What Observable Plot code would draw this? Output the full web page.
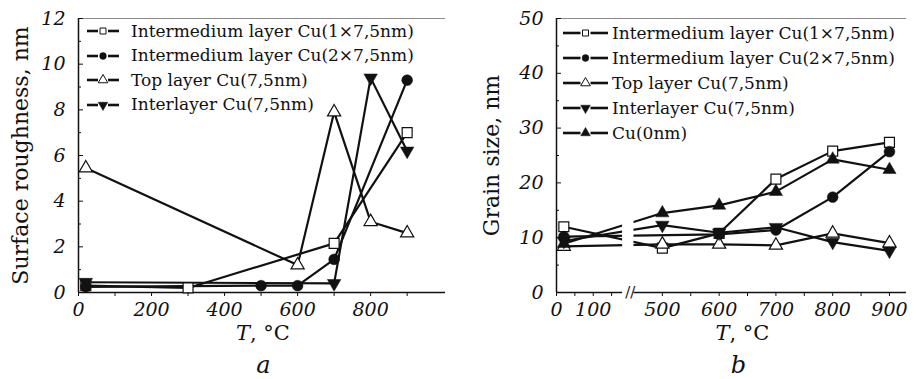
<!DOCTYPE html>
<html><head><meta charset="utf-8">
<script src="https://cdn.jsdelivr.net/npm/d3@7"></script>
<script src="https://cdn.jsdelivr.net/npm/@observablehq/plot@0.6"></script>
<style>
body{margin:0;background:#fff;}
#fig{position:relative;width:916px;height:379px;background:#fff;font-family:'DejaVu Serif',serif;color:#111;overflow:hidden}
.panel{position:absolute;top:0}
.row{position:absolute;display:flex;align-items:center;white-space:nowrap;font-size:17px;line-height:1;height:18px}
</style></head><body>
<div id="fig"><div class="panel" id="pa" style="left:0"></div><div class="panel" id="pb" style="left:458px"></div></div>
<script>
// ---------- series names ----------
const seriesNames = ["Intermedium layer Cu(1×7,5nm)", "Intermedium layer Cu(2×7,5nm)", "Top layer Cu(7,5nm)", "Interlayer Cu(7,5nm)", "Cu(0nm)"];

// ---------- panel a: surface roughness, nm ----------
const roughSquareT = [20, 300, 700, 900];
const roughSquare  = [0.3, 0.2, 2.15, 7.0];
const roughCircleT = [20, 500, 600, 700, 900];
const roughCircle  = [0.25, 0.3, 0.3, 1.45, 9.3];
const roughOpenTriT = [20, 600, 700, 800, 900];
const roughOpenTri  = [5.45, 1.2, 7.9, 3.1, 2.6];
const roughDownTriT = [20, 700, 800, 900];
const roughDownTri  = [0.45, 0.4, 9.4, 6.2];

// ---------- panel b: grain size, nm ----------
const grainSquareT = [20, 500, 600, 700, 800, 900];
const grainSquare  = [12.0, 8.1, 10.8, 20.7, 25.8, 27.4];
const grainCircleT = [20, 600, 700, 800, 900];
const grainCircle  = [10.2, 10.6, 11.4, 17.4, 25.7];
const grainOpenTriT = [20, 500, 600, 700, 800, 900];
const grainOpenTri  = [8.4, 8.8, 8.8, 8.6, 10.8, 9.0];
const grainDownTriT = [20, 500, 600, 700, 800, 900];
const grainDownTri  = [9.4, 12.3, 10.9, 11.9, 9.2, 7.6];
const grainUpTriT = [20, 500, 600, 700, 800, 900];
const grainUpTri  = [8.9, 14.5, 15.9, 18.4, 24.3, 22.4];

// ---------- ticks ----------
const aXMajor = [0, 200, 400, 600, 800];
const aXMinor = [100, 300, 500, 700, 900];
const aYMajor = [0, 2, 4, 6, 8, 10, 12];
const aYMinor = [1, 3, 5, 7, 9, 11];
const bXMajor = [0, 100, 500, 600, 700, 800, 900];
const bXMinor = [50, 150, 550, 650, 750, 850];
const bYMajor = [0, 10, 20, 30, 40, 50];
const bYMinor = [5, 15, 25, 35, 45];
const bBreak = [180, 450];

// broken-axis transform for panel b's x scale (Plot scale transform option)
const gapUnits = 31, stretch = 1.546;
const brokenT = t => t <= bBreak[0] ? t : t >= bBreak[1] ? bBreak[0] + gapUnits + (t - bBreak[1]) * stretch
  : bBreak[0] + gapUnits * (t - bBreak[0]) / (bBreak[1] - bBreak[0]);

// ---------- symbols ----------
const triangleDown = {draw(ctx, size) {
  const y = -Math.sqrt(size / (Math.sqrt(3) * 3)), s3 = Math.sqrt(3);
  ctx.moveTo(0, -y * 2); ctx.lineTo(-s3 * y, y); ctx.lineTo(s3 * y, y); ctx.closePath();
}};
const styles = [
  {symbol: d3.symbolSquare, open: true, r: 5.6, lsize: 36},
  {symbol: d3.symbolCircle, open: false, r: 5.4, lsize: 36},
  {symbol: d3.symbolTriangle, open: true, r: 4.9, lsize: 40},
  {symbol: triangleDown, open: false, r: 5.0, lsize: 40},
  {symbol: d3.symbolTriangle, open: false, r: 4.9, lsize: 40}
];

const ink = "#111";

function makePanel(cfg) {
  const marks = [];
  marks.push(Plot.ruleY([cfg.yMax], {stroke: "#8a8a8a", strokeWidth: 1}));
  marks.push(Plot.ruleX([0], {stroke: ink, strokeWidth: 1.5}));
  marks.push(Plot.ruleY([0], {stroke: ink, strokeWidth: 1.5}));
  cfg.series.forEach(s => {
    const data = s.T.map((t, i) => ({t, v: s.v[i]}));
    marks.push(Plot.line(data, {x: "t", y: "v", stroke: ink, strokeWidth: 2.2}));
  });
  if (cfg.brk) {
    marks.push(Plot.rect([cfg.brk], {x1: d => d[0], x2: d => d[1], y1: -0.6, y2: cfg.yMax * 0.9, fill: "#fff"}));
    marks.push(Plot.text([cfg.brk], {x: d => (d[0] + d[1]) / 2, y: 0, text: () => "//", dx: 2, fontSize: 15, lineAnchor: "middle"}));
  }
  cfg.series.forEach(s => {
    const st = styles[s.style];
    const data = s.T.map((t, i) => ({t, v: s.v[i]}));
    marks.push(Plot.dot(data, {x: "t", y: "v", symbol: st.symbol, r: st.r,
      fill: st.open ? "#fff" : ink, stroke: ink, strokeWidth: st.open ? 1.2 : 0.5}));
  });
  // tick marks
  marks.push(Plot.axisY(cfg.yMajor, {anchor: "left", tickSize: -5, label: null, tickFormat: () => "", stroke: ink}));
  marks.push(Plot.axisY(cfg.yMinor, {anchor: "left", tickSize: -3, label: null, tickFormat: () => "", stroke: ink}));
  marks.push(Plot.axisX(cfg.xMajor, {anchor: "bottom", tickSize: 4, label: null, tickFormat: () => "", stroke: ink}));
  marks.push(Plot.axisX(cfg.xMinor, {anchor: "bottom", tickSize: 4, label: null, tickFormat: () => "", stroke: ink}));
  // tick labels (italic)
  marks.push(Plot.text(cfg.yMajor, {x: 0, y: d => d, text: d => String(d), dx: -13, textAnchor: "end", lineAnchor: "middle", fontSize: 19, fontStyle: "italic"}));
  marks.push(Plot.text(cfg.xMajor, {x: d => d, y: 0, text: d => String(d), dy: 10, textAnchor: "middle", lineAnchor: "top", fontSize: 19, fontStyle: "italic"}));
  // axis titles
  marks.push(Plot.text([cfg.ylabel], {frameAnchor: "left", text: d => d, dx: cfg.ylabelDx, rotate: -90, fontSize: 22, textAnchor: "middle", lineAnchor: "middle"}));
  marks.push(Plot.text(["T"], {frameAnchor: "bottom", text: d => d, dx: cfg.tDx, dy: 47, fontSize: 21, fontStyle: "italic", textAnchor: "end", lineAnchor: "bottom"}));
  marks.push(Plot.text([", °C"], {frameAnchor: "bottom", text: d => d, dx: cfg.tDx, dy: 47, fontSize: 21, textAnchor: "start", lineAnchor: "bottom"}));
  marks.push(Plot.text([cfg.letter], {frameAnchor: "bottom", text: d => d, dx: cfg.letterDx, dy: 80, fontSize: 24, fontStyle: "italic", textAnchor: "middle", lineAnchor: "bottom"}));
  return Plot.plot({
    width: 458, height: 379,
    marginLeft: cfg.marginLeft, marginRight: cfg.marginRight, marginTop: 18, marginBottom: 87,
    x: cfg.x,
    y: {domain: [0, cfg.yMax], label: null},
    style: {fontFamily: "'DejaVu Serif', serif", fontSize: "16px", background: "#fff", color: ink, overflow: "visible"},
    marks
  });
}

function legend(container, items, o) {
  items.forEach((it, i) => {
    const st = styles[it.style];
    const row = document.createElement("div");
    row.className = "row";
    row.style.left = o.left + "px";
    row.style.top = (o.top0 + i * o.step - 9) + "px";
    const svg = d3.create("svg").attr("width", o.swW).attr("height", 18).style("overflow", "visible");
    const cx = o.swW / 2;
    svg.append("line").attr("x1", 0).attr("x2", cx - 5).attr("y1", 9).attr("y2", 9).attr("stroke", ink).attr("stroke-width", 2.6);
    svg.append("line").attr("x1", cx + 5).attr("x2", o.swW).attr("y1", 9).attr("y2", 9).attr("stroke", ink).attr("stroke-width", 2.6);
    svg.append("path").attr("transform", `translate(${cx},9)`).attr("d", d3.symbol(st.symbol, st.lsize)())
      .attr("fill", st.open ? "#fff" : ink).attr("stroke", ink).attr("stroke-width", st.open ? 1 : 0.5);
    row.append(svg.node());
    const span = document.createElement("span");
    span.textContent = it.name;
    span.style.marginLeft = o.gap + "px";
    row.append(span);
    container.append(row);
  });
}

const seriesA = [
  {T: roughSquareT, v: roughSquare, style: 0, name: seriesNames[0]},
  {T: roughCircleT, v: roughCircle, style: 1, name: seriesNames[1]},
  {T: roughOpenTriT, v: roughOpenTri, style: 2, name: seriesNames[2]},
  {T: roughDownTriT, v: roughDownTri, style: 3, name: seriesNames[3]}
];
const seriesB = [
  {T: grainSquareT, v: grainSquare, style: 0, name: seriesNames[0]},
  {T: grainCircleT, v: grainCircle, style: 1, name: seriesNames[1]},
  {T: grainOpenTriT, v: grainOpenTri, style: 2, name: seriesNames[2]},
  {T: grainDownTriT, v: grainDownTri, style: 3, name: seriesNames[3]},
  {T: grainUpTriT, v: grainUpTri, style: 4, name: seriesNames[4]}
];

const pa = document.getElementById("pa"), pb = document.getElementById("pb");
pa.append(makePanel({
  series: seriesA, yMax: 12, yMajor: aYMajor, yMinor: aYMinor, xMajor: aXMajor, xMinor: aXMinor,
  x: {domain: [0, 1005], label: null}, marginLeft: 78, marginRight: 13,
  ylabel: "Surface roughness, nm", ylabelDx: -58, tDx: -12, letter: "a", letterDx: 1.5
}));
pb.append(makePanel({
  series: seriesB, yMax: 50, yMajor: bYMajor, yMinor: bYMinor, xMajor: bXMajor, xMinor: bXMinor,
  x: {type: "linear", transform: brokenT, domain: [0, brokenT(930)], label: null}, marginLeft: 98, marginRight: 10,
  brk: bBreak,
  ylabel: "Grain size, nm", ylabelDx: -65, tDx: -2, letter: "b", letterDx: 7
}));
const fig = document.getElementById("fig");
legend(fig, seriesA, {left: 87, top0: 31, step: 24.6, swW: 32, gap: 12});
legend(fig, seriesB, {left: 563, top0: 33, step: 25, swW: 45, gap: 4});
</script>
</body></html>
